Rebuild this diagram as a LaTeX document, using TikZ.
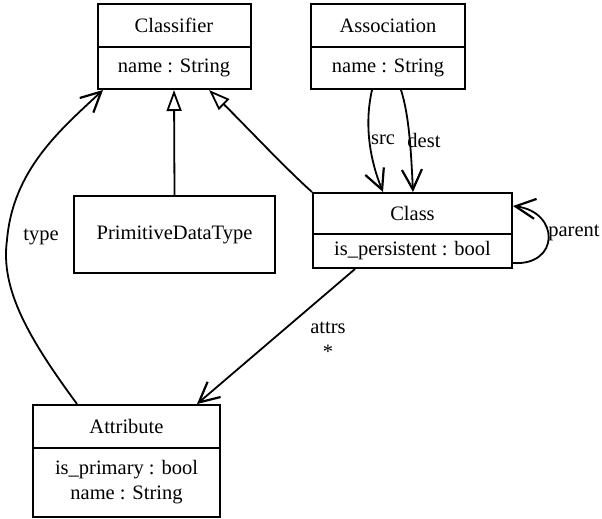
\documentclass[tikz,border=0pt]{standalone}
\usepackage{fontspec}
\setmainfont{Liberation Serif}
\usetikzlibrary{arrows.meta}
\begin{document}
\begin{tikzpicture}[x=1pt,y=-1pt,
  every node/.style={font=\fontsize{20.5}{25}\selectfont},
  box/.style={draw, line width=2pt, inner sep=0pt, align=center},
  lbl/.style={inner sep=1pt},
  edge/.style={line width=1.8pt},
  assoc/.style={edge, -{Straight Barb[length=20pt,width=20pt,line width=2.2pt]}},
  gen/.style={edge, -{Triangle[open,length=21pt,width=15pt,fill=white,line width=1.8pt]}}]
\useasboundingbox (0,0) rectangle (602,519);
% Classifier
\node[box, minimum width=153pt, minimum height=43pt] (clsT) at (174,25.5) {Classifier};
\node[box, minimum width=153pt, minimum height=42pt] (clsA) at (174,68) {name : String};
% Association
\node[box, minimum width=154pt, minimum height=43pt] (asT) at (388,25.5) {Association};
\node[box, minimum width=154pt, minimum height=42pt] (asA) at (388,68) {name : String};
% Class
\node[box, minimum width=199pt, minimum height=41pt] (cT) at (412.5,213.5) {Class};
\node[box, minimum width=199pt, minimum height=34pt] (cA) at (412.5,251) {is\_persistent : bool};
% PrimitiveDataType
\node[box, minimum width=201pt, minimum height=77pt] (pdt) at (174.5,234.5) {PrimitiveDataType};
% Attribute
\node[box, minimum width=187pt, minimum height=43pt] (atT) at (126.5,426.5) {Attribute};
\node[box, minimum width=187pt, minimum height=69pt] (atA) at (126.5,482.5) {is\_primary : bool\\name : String};
% generalizations
\draw[gen] (pdt.north) -- (clsA.south);
\draw[gen] (cT.north west) .. controls (285,168) and (240,120) .. ([xshift=35pt]clsA.south);
% src / dest
\draw[assoc] ([xshift=-16pt]asA.south) .. controls (364,125) and (370,160) .. ([xshift=-29.5pt]cT.north);
\draw[assoc] ([xshift=13pt]asA.south) .. controls (409,115) and (411,150) .. ([xshift=0.5pt]cT.north);
\node[lbl] (src) at (383,140) {src};
\node[lbl] (dest) at (424,140) {dest};
% parent self loop
\draw[assoc] ([yshift=-12pt]cA.east) .. controls (560,266) and (560,212) .. ([yshift=7.5pt]cT.east);
\node[lbl] (parent) at (574,233) {parent};
% attrs
\draw[assoc] ([xshift=-57.5pt]cA.south) -- ([xshift=70.5pt]atT.north);
\node[lbl] (attrs) at (328,328) {attrs};
\node[lbl] (mult) at (328,352) {*};
% type
\coordinate (tmid) at (7,240);
\draw[assoc] ([xshift=-49.5pt]atT.north) .. controls (30,340) and (0,290) .. (tmid)
  .. controls (13,170) and (60,130) .. ([xshift=-71pt]clsA.south);
\node[lbl] (type) at (41,237) {type};
\end{tikzpicture}
\end{document}
